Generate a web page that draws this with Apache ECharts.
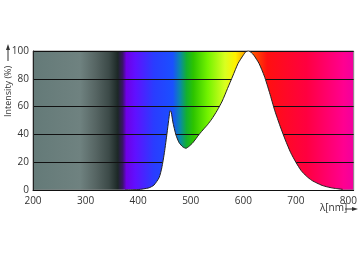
<!DOCTYPE html>
<html><head><meta charset="utf-8">
<script src="https://cdn.jsdelivr.net/npm/echarts@6/dist/echarts.min.js"></script>
<style>html,body{margin:0;padding:0;background:#fff}#c{width:360px;height:262px}</style>
</head><body><div id="c"></div>
<script>
// Wavelengths (nm) and relative intensity (%)
var wavelengths = [375,400,420,430,440,445,450,455,458,461,463,466,472,478,485,491,497,504,516,525,532,540,550,560,570,580,590,600,605,610,615,620,630,640,650,660,670,680,690,700,710,720,730,740,750,760,770,780,789];
var intensity   = [0,0.3,1.5,3.5,9,16,27,41,50,57,56,49,39.5,34,31,30,31.5,34,40,44,47,51,57,64,73,82,91,97,99.5,100,99,97,91,82,70,57,46,36,27,20,14,10,7,5,3.3,2.2,1.4,0.9,0.5];
var xTicks = [200,300,400,500,600,700,800];
var yTicks = [0,20,40,60,80,100];
// background spectrum stops: [wavelength, colour]
var spectrumStops = [[200,'#647a78'],[290,'#6f8280'],[320,'#566563'],[345,'#3c4a48'],[362,'#1c2826'],[371,'#3a1468'],[378,'#6e00e6'],[395,'#6010ff'],[430,'#2a3cff'],[466,'#1a50ff'],[480,'#0a8aa8'],[492,'#12b030'],[505,'#2cc400'],[532,'#72f200'],[565,'#d8ff20'],[585,'#fff000'],[600,'#ffb000'],[620,'#ff5000'],[645,'#ff1010'],[720,'#ff0040'],[790,'#ff0090'],[810,'#f000a0']];

var xMin = 200, xMax = 810;
var stops = spectrumStops.map(function(s){return {offset:(s[0]-xMin)/(xMax-xMin), color:s[1]};});
var chart = echarts.init(document.getElementById('c'), null, {renderer:'canvas'});
var font = 'Open Sans, Liberation Sans, sans-serif';
chart.setOption({
  animation:false,
  grid:{left:33,right:2,top:51,bottom:72,show:true,
    backgroundColor:new echarts.graphic.LinearGradient(0,0,1,0,stops),
    borderColor:'#888',borderWidth:1},
  xAxis:{type:'value',min:xMin,max:xMax,interval:100,
    axisLine:{show:true,onZero:false,lineStyle:{color:'#111',width:1}},
    axisTick:{show:false},splitLine:{show:false},
    axisLabel:{color:'#333',fontSize:10,fontFamily:font,margin:6,
      formatter:function(v){return xTicks.indexOf(v)>=0?String(v):'';}}},
  yAxis:{type:'value',min:0,max:100,interval:20,
    axisLine:{show:true,lineStyle:{color:'#222',width:1}},
    axisTick:{show:false},
    splitLine:{show:true,lineStyle:{color:'#111',width:1}},
    axisLabel:{color:'#333',fontSize:10,fontFamily:font,margin:4,
      formatter:function(v){return yTicks.indexOf(v)>=0?String(v):'';}}},
  series:[{type:'line',data:wavelengths.map(function(w,i){return [w,intensity[i]];}),
    showSymbol:false,smooth:0.2,
    lineStyle:{color:'#222',width:1},
    areaStyle:{color:'#ffffff',opacity:1,origin:'start'},z:3}],
  graphic:[
    {type:'text',x:8,y:117,rotation:Math.PI/2,
      style:{text:'Intensity (%)',fill:'#333',font:'9px '+font,textAlign:'left',textVerticalAlign:'middle'}},
    {type:'line',shape:{x1:8,y1:61,x2:8,y2:47},style:{stroke:'#333',lineWidth:1}},
    {type:'polygon',shape:{points:[[8,44],[6,50],[10,50]]},style:{fill:'#333'}},
    {type:'text',x:320,y:208,
      style:{text:'λ[nm]',fill:'#333',font:'10px '+font,textAlign:'left',textVerticalAlign:'middle'}},
    {type:'line',shape:{x1:345,y1:209,x2:355,y2:209},style:{stroke:'#333',lineWidth:1}},
    {type:'polygon',shape:{points:[[358,209],[352,207],[352,211]]},style:{fill:'#333'}}
  ]
});
</script></body></html>
